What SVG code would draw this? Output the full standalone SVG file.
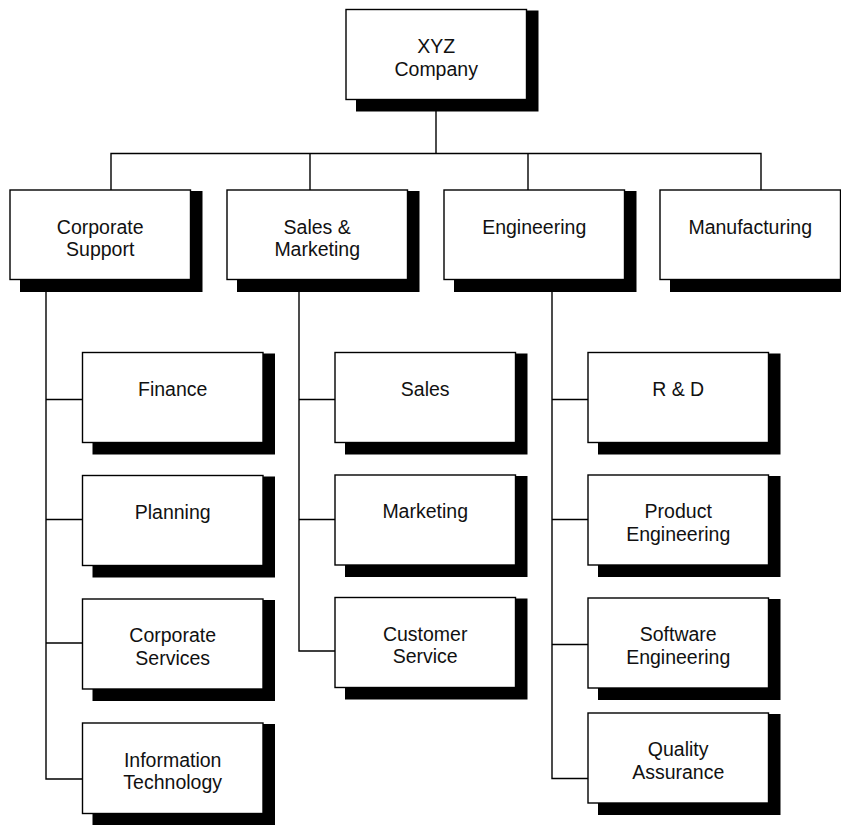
<svg xmlns="http://www.w3.org/2000/svg" width="841" height="825" viewBox="0 0 841 825">
  <defs>
    <style>
      .shadow { fill: #000; stroke: none; }
      .box { fill: #fff; stroke: #000; stroke-width: 1.4; }
      .wire { fill: none; stroke: #000; stroke-width: 1.4; }
      .label { font-family: "Liberation Sans", Arial, sans-serif; font-size: 19.5px; fill: #111; text-anchor: middle; }
    </style>
  </defs>
  <rect width="841" height="825" fill="#fff"/>

  <!-- connectors -->
  <g id="connectors" class="wire">
    <!-- trunk and top bus -->
    <path d="M436 99.5 V153.5"/>
    <path d="M111 190 V153.5 H761 V190"/>
    <path d="M310 153.5 V190"/>
    <path d="M528 153.5 V190"/>
    <!-- Corporate Support branch -->
    <path d="M46 279.5 V779 H82.5"/>
    <path d="M46 399.5 H82.5"/>
    <path d="M46 519.5 H82.5"/>
    <path d="M46 643 H82.5"/>
    <!-- Sales & Marketing branch -->
    <path d="M299 279.5 V651 H335"/>
    <path d="M299 399.5 H335"/>
    <path d="M299 519.5 H335"/>
    <!-- Engineering branch -->
    <path d="M552 279.5 V778.5 H588"/>
    <path d="M552 399.5 H588"/>
    <path d="M552 519.5 H588"/>
    <path d="M552 644.5 H588"/>
  </g>

  <!-- top level -->
  <g id="xyz-company">
    <rect class="shadow" x="356" y="10.5" width="182.5" height="101"/>
    <rect class="box" x="346" y="9.5" width="180.5" height="90"/>
    <text class="label" x="436.2" y="53">XYZ</text>
    <text class="label" x="436.2" y="75.5">Company</text>
  </g>

  <!-- divisions -->
  <g id="corporate-support">
    <rect class="shadow" x="20" y="191" width="182.5" height="101"/>
    <rect class="box" x="10" y="190" width="180.5" height="89.5"/>
    <text class="label" x="100.2" y="233.5">Corporate</text>
    <text class="label" x="100.2" y="256">Support</text>
  </g>
  <g id="sales-marketing">
    <rect class="shadow" x="237" y="191" width="182.5" height="101"/>
    <rect class="box" x="227" y="190" width="180.5" height="89.5"/>
    <text class="label" x="317.2" y="233.5">Sales &amp;</text>
    <text class="label" x="317.2" y="256">Marketing</text>
  </g>
  <g id="engineering">
    <rect class="shadow" x="454" y="191" width="182.5" height="101"/>
    <rect class="box" x="444" y="190" width="180.5" height="89.5"/>
    <text class="label" x="534.2" y="233.5">Engineering</text>
  </g>
  <g id="manufacturing">
    <rect class="shadow" x="670" y="191" width="182.5" height="101"/>
    <rect class="box" x="660" y="190" width="180.5" height="89.5"/>
    <text class="label" x="750.2" y="233.5">Manufacturing</text>
  </g>

  <!-- Corporate Support departments -->
  <g id="finance">
    <rect class="shadow" x="92.5" y="353.5" width="182.5" height="101"/>
    <rect class="box" x="82.5" y="352.5" width="180.5" height="90"/>
    <text class="label" x="172.7" y="395.5">Finance</text>
  </g>
  <g id="planning">
    <rect class="shadow" x="92.5" y="476.5" width="182.5" height="101"/>
    <rect class="box" x="82.5" y="475.5" width="180.5" height="90"/>
    <text class="label" x="172.7" y="518.5">Planning</text>
  </g>
  <g id="corporate-services">
    <rect class="shadow" x="92.5" y="600" width="182.5" height="101"/>
    <rect class="box" x="82.5" y="599" width="180.5" height="90"/>
    <text class="label" x="172.7" y="642">Corporate</text>
    <text class="label" x="172.7" y="664.5">Services</text>
  </g>
  <g id="information-technology">
    <rect class="shadow" x="92.5" y="724" width="182.5" height="101"/>
    <rect class="box" x="82.5" y="723" width="180.5" height="90.5"/>
    <text class="label" x="172.7" y="766.5">Information</text>
    <text class="label" x="172.7" y="789">Technology</text>
  </g>

  <!-- Sales & Marketing departments -->
  <g id="sales">
    <rect class="shadow" x="345" y="353.5" width="182.5" height="101"/>
    <rect class="box" x="335" y="352.5" width="180.5" height="90"/>
    <text class="label" x="425.2" y="395.5">Sales</text>
  </g>
  <g id="marketing">
    <rect class="shadow" x="345" y="476" width="182.5" height="101"/>
    <rect class="box" x="335" y="475" width="180.5" height="90"/>
    <text class="label" x="425.2" y="518">Marketing</text>
  </g>
  <g id="customer-service">
    <rect class="shadow" x="345" y="598.5" width="182.5" height="101"/>
    <rect class="box" x="335" y="597.5" width="180.5" height="90"/>
    <text class="label" x="425.2" y="640.5">Customer</text>
    <text class="label" x="425.2" y="663">Service</text>
  </g>

  <!-- Engineering departments -->
  <g id="r-and-d">
    <rect class="shadow" x="598" y="353.5" width="182.5" height="101"/>
    <rect class="box" x="588" y="352.5" width="180.5" height="90"/>
    <text class="label" x="678.2" y="395.5">R &amp; D</text>
  </g>
  <g id="product-engineering">
    <rect class="shadow" x="598" y="476" width="182.5" height="101"/>
    <rect class="box" x="588" y="475" width="180.5" height="90"/>
    <text class="label" x="678.2" y="518">Product</text>
    <text class="label" x="678.2" y="540.5">Engineering</text>
  </g>
  <g id="software-engineering">
    <rect class="shadow" x="598" y="599" width="182.5" height="101"/>
    <rect class="box" x="588" y="598" width="180.5" height="90"/>
    <text class="label" x="678.2" y="641">Software</text>
    <text class="label" x="678.2" y="663.5">Engineering</text>
  </g>
  <g id="quality-assurance">
    <rect class="shadow" x="598" y="714" width="182.5" height="101"/>
    <rect class="box" x="588" y="713" width="180.5" height="90"/>
    <text class="label" x="678.2" y="756">Quality</text>
    <text class="label" x="678.2" y="778.5">Assurance</text>
  </g>
</svg>
